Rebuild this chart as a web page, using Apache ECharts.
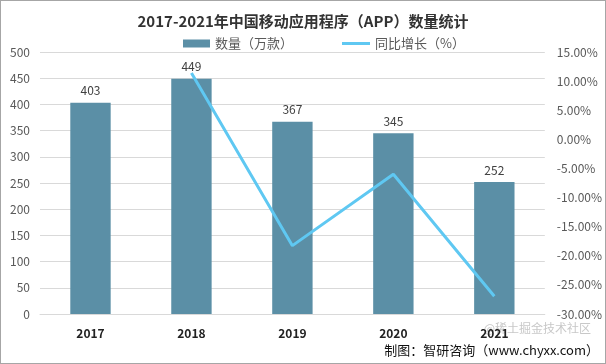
<!DOCTYPE html>
<html><head><meta charset="utf-8">
<script src="https://cdn.jsdelivr.net/npm/echarts@6/dist/echarts.min.js"></script>
<style>
html,body{margin:0;padding:0;background:#fff;}
#c{width:604px;height:362px;border:1px solid #a6a6a6;}
</style></head>
<body><div id="c"></div>
<script>
const categories = ['2017','2018','2019','2020','2021'];
const appCount = [403, 449, 367, 345, 252];
const growthPct = [null, 11.41, -18.26, -5.99, -26.96];
const leftTicks = {min:0, max:500, interval:50};
const rightTicks = {min:-30, max:15, interval:5};

const chart = echarts.init(document.getElementById('c'), null, {renderer:'canvas'});
const font = '"Noto Sans CJK SC", "Microsoft YaHei", sans-serif';
chart.setOption({
  animation:false,
  textStyle:{fontFamily:font},
  title:{text:'2017-2021年中国移动应用程序（APP）数量统计', left:'center', top:8,
    textStyle:{fontSize:15, fontWeight:'bold', color:'#333', fontFamily:font}},
  legend:[
    {top:31, left:177, itemWidth:27, itemHeight:8, itemGap:0,
     textStyle:{fontSize:13, color:'#595959', fontFamily:font},
     data:[{name:'数量（万款）', icon:'rect'}]},
    {top:31, left:336, itemWidth:28, itemHeight:3, itemGap:0,
     textStyle:{fontSize:13, color:'#595959', fontFamily:font},
     data:[{name:'同比增长（%）', icon:'rect'}]}
  ],
  grid:{left:39, right:60, top:51, bottom:49},
  xAxis:{type:'category', data:categories,
    axisLine:{lineStyle:{color:'#d9d9d9'}}, axisTick:{show:false},
    axisLabel:{color:'#222', fontWeight:'bold', fontSize:12, margin:13, fontFamily:font}},
  yAxis:[
    {type:'value', min:leftTicks.min, max:leftTicks.max, interval:leftTicks.interval,
     axisLabel:{color:'#595959', fontSize:12, margin:10},
     splitLine:{lineStyle:{color:'#d9d9d9'}}, axisLine:{show:false}, axisTick:{show:false}},
    {type:'value', min:rightTicks.min, max:rightTicks.max, interval:rightTicks.interval,
     axisLabel:{color:'#595959', fontSize:12, margin:12, formatter:v=>v.toFixed(2)+'%'},
     splitLine:{show:false}, axisLine:{show:false}, axisTick:{show:false}}
  ],
  series:[
    {name:'数量（万款）', type:'bar', data:appCount, barWidth:'40%',
     itemStyle:{color:'#5b8fa6'},
     label:{show:true, position:'top', color:'#404040', fontSize:12, distance:6}},
    {name:'同比增长（%）', type:'line', yAxisIndex:1, data:growthPct,
     symbol:'none', lineStyle:{color:'#5fc8f2', width:3}, itemStyle:{color:'#5fc8f2'}}
  ],
  graphic:[
    {type:'text', right:14, top:321, style:{text:'@稀土掘金技术社区', fontSize:12, fill:'#c8c8c8', fontFamily:font}},
    {type:'text', right:6, top:343, style:{text:'制图：智研咨询（www.chyxx.com）', fontSize:13, fill:'#111', fontFamily:font}}
  ]
});
</script></body></html>
